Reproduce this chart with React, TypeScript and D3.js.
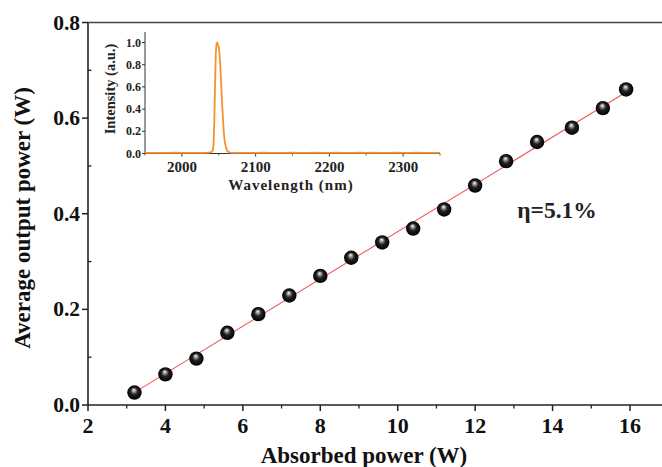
import React from "react";
import * as d3 from "d3";

// Main data: absorbed power (W) vs average output power (W)
const absorbedPower = [3.2, 4.0, 4.8, 5.6, 6.4, 7.2, 8.0, 8.8, 9.6, 10.4, 11.2, 12.0, 12.8, 13.6, 14.5, 15.3, 15.9];
const outputPower = [0.026, 0.064, 0.097, 0.151, 0.19, 0.229, 0.27, 0.308, 0.34, 0.369, 0.409, 0.459, 0.51, 0.55, 0.58, 0.621, 0.66];
const xTicks = [2, 4, 6, 8, 10, 12, 14, 16];
const yTicks = [0.0, 0.2, 0.4, 0.6, 0.8];

// Inset spectrum
const wavelength = [1950, 1960, 1970, 1980, 1990, 2000, 2010, 2020, 2030, 2036, 2040, 2042, 2043, 2044, 2045, 2046, 2047, 2048, 2049, 2050, 2051, 2052, 2053, 2054, 2055, 2056, 2057, 2058, 2060, 2062, 2065, 2070, 2080, 2090, 2100, 2110, 2120, 2130, 2140, 2150, 2160, 2170, 2180, 2190, 2200, 2210, 2220, 2230, 2240, 2250, 2260, 2270, 2280, 2290, 2300, 2310, 2320, 2330, 2340, 2350];
const intensity = [0.006, 0.005, 0.006, 0.005, 0.007, 0.006, 0.005, 0.006, 0.006, 0.008, 0.012, 0.03, 0.08, 0.3, 0.62, 0.9, 0.99, 1.0, 0.98, 0.96, 0.9, 0.8, 0.66, 0.52, 0.4, 0.28, 0.18, 0.11, 0.05, 0.02, 0.008, 0.006, 0.005, 0.006, 0.005, 0.007, 0.006, 0.005, 0.006, 0.007, 0.005, 0.006, 0.008, 0.006, 0.005, 0.007, 0.006, 0.005, 0.008, 0.006, 0.007, 0.005, 0.006, 0.007, 0.006, 0.005, 0.007, 0.006, 0.006, 0.005];
const insetXTicks = [2000, 2100, 2200, 2300];
const insetYTicks = [0.0, 0.2, 0.4, 0.6, 0.8, 1.0];

const W = 662;
const H = 467;
const serif = "'Liberation Serif', 'Times New Roman', serif";

export default function App() {
  const x = d3.scaleLinear().domain([2, 16]).range([88, 630]);
  const y = d3.scaleLinear().domain([0, 0.8]).range([405, 22.5]);
  const xRight = 700;

  // linear fit
  const mx = d3.mean(absorbedPower)!;
  const my = d3.mean(outputPower)!;
  let sxy = 0, sxx = 0;
  absorbedPower.forEach((v, i) => {
    sxy += (v - mx) * (outputPower[i] - my);
    sxx += (v - mx) * (v - mx);
  });
  const slope = sxy / sxx;
  const icpt = my - slope * mx;
  const fx0 = 3.15, fx1 = 16.0;

  const minorX = d3.range(3, 17, 2);
  const minorY = d3.range(0.1, 0.8, 0.2);

  // inset scales
  const ix = d3.scaleLinear().domain([1950, 2350]).range([145, 440]);
  const iy = d3.scaleLinear().domain([0, 1.0]).range([153.5, 42.5]);
  const insetTop = 32;
  const line = d3
    .line<number>()
    .x((_, i) => ix(wavelength[i]))
    .y((d) => iy(d));
  const minorIX = [1950, 2050, 2150, 2250, 2350];

  return (
    <svg width={W} height={H} style={{ position: "absolute", left: 0, top: 0, background: "#fff" }} fontFamily={serif}>
      <defs>
        <radialGradient id="ball" cx="0.5" cy="0.5" r="0.5" fx="0.45" fy="0.3">
          <stop offset="0" stopColor="#ffffff" />
          <stop offset="0.22" stopColor="#9a9a9a" />
          <stop offset="0.5" stopColor="#222" />
          <stop offset="1" stopColor="#000" />
        </radialGradient>
      </defs>
      <rect x={0} y={0} width={W} height={H} fill="#fff" />

      {/* main frame: left, bottom, top */}
      <line x1={x(2)} x2={x(2)} y1={y(0.8)} y2={y(0)} stroke="#222" strokeWidth={1.6} />
      <line x1={x(2)} x2={xRight} y1={y(0)} y2={y(0)} stroke="#222" strokeWidth={1.6} />
      <line x1={x(2)} x2={xRight} y1={y(0.8)} y2={y(0.8)} stroke="#444" strokeWidth={1.6} />

      {/* x ticks */}
      {xTicks.map((t) => (
        <g key={"xt" + t}>
          <line x1={x(t)} x2={x(t)} y1={y(0)} y2={y(0) + 6} stroke="#222" strokeWidth={1.5} />
          <text x={x(t)} y={433} textAnchor="middle" fontSize={22} fontWeight="bold" fill="#111">
            {t}
          </text>
        </g>
      ))}
      {minorX.map((t) => (
        <line key={"xm" + t} x1={x(t)} x2={x(t)} y1={y(0)} y2={y(0) + 3.5} stroke="#222" strokeWidth={1.3} />
      ))}

      {/* y ticks */}
      {yTicks.map((t) => (
        <g key={"yt" + t}>
          <line x1={x(2) - 6} x2={x(2)} y1={y(t)} y2={y(t)} stroke="#222" strokeWidth={1.5} />
          <text x={80} y={y(t) + 7} textAnchor="end" fontSize={21.5} fontWeight="bold" fill="#111">
            {t.toFixed(1)}
          </text>
        </g>
      ))}
      {minorY.map((t) => (
        <line key={"ym" + t} x1={x(2)} x2={x(2) + 3.5} y1={y(t)} y2={y(t)} stroke="#222" strokeWidth={1.3} />
      ))}

      {/* axis titles */}
      <text x={364} y={463} textAnchor="middle" fontSize={23} fontWeight="bold" fill="#111">
        Absorbed power (W)
      </text>
      <text
        transform={`translate(30,${218}) rotate(-90)`}
        textAnchor="middle"
        fontSize={23}
        fontWeight="bold"
        fill="#111"
      >
        Average output power (W)
      </text>

      {/* fit line */}
      <line
        x1={x(fx0)}
        y1={y(slope * fx0 + icpt)}
        x2={x(fx1)}
        y2={y(slope * fx1 + icpt)}
        stroke="#f05a5a"
        strokeWidth={1.1}
      />

      {/* data points */}
      {absorbedPower.map((v, i) => (
        <circle key={"p" + i} cx={x(v)} cy={y(outputPower[i])} r={7.2} fill="url(#ball)" />
      ))}

      {/* efficiency label */}
      <text x={557} y={218} textAnchor="middle" fontSize={23.5} fontWeight="bold" fill="#222">
        η=5.1%
      </text>

      {/* inset */}
      <line x1={ix(1950)} x2={ix(1950)} y1={insetTop} y2={iy(0)} stroke="#333" strokeWidth={1} />
      <line x1={ix(1950)} x2={ix(2350)} y1={iy(0)} y2={iy(0)} stroke="#333" strokeWidth={1} />
      {insetYTicks.map((t) => (
        <g key={"iyt" + t}>
          <line x1={ix(1950) - 3} x2={ix(1950)} y1={iy(t)} y2={iy(t)} stroke="#333" strokeWidth={1} />
          <text x={ix(1950) - 4} y={iy(t) + 4} textAnchor="end" fontSize={12} fontWeight="bold" fill="#222">
            {t.toFixed(1)}
          </text>
        </g>
      ))}
      {insetXTicks.map((t) => (
        <g key={"ixt" + t}>
          <line x1={ix(t)} x2={ix(t)} y1={iy(0)} y2={iy(0) + 3} stroke="#333" strokeWidth={1} />
          <text x={ix(t)} y={iy(0) + 18} textAnchor="middle" fontSize={15} fontWeight="bold" fill="#222">
            {t}
          </text>
        </g>
      ))}
      {minorIX.map((t) => (
        <line key={"ixm" + t} x1={ix(t)} x2={ix(t)} y1={iy(0)} y2={iy(0) + 2} stroke="#333" strokeWidth={0.8} />
      ))}
      <text x={291} y={190} textAnchor="middle" fontSize={15} fontWeight="bold" letterSpacing={1} fill="#222">
        Wavelength (nm)
      </text>
      <text
        transform={`translate(115,${89}) rotate(-90)`}
        textAnchor="middle"
        fontSize={14.5}
        fontWeight="bold"
        fill="#222"
      >
        Intensity (a.u.)
      </text>
      <path d={line(intensity) ?? ""} fill="none" stroke="#f7922e" strokeWidth={1.8} strokeLinejoin="round" />
    </svg>
  );
}
